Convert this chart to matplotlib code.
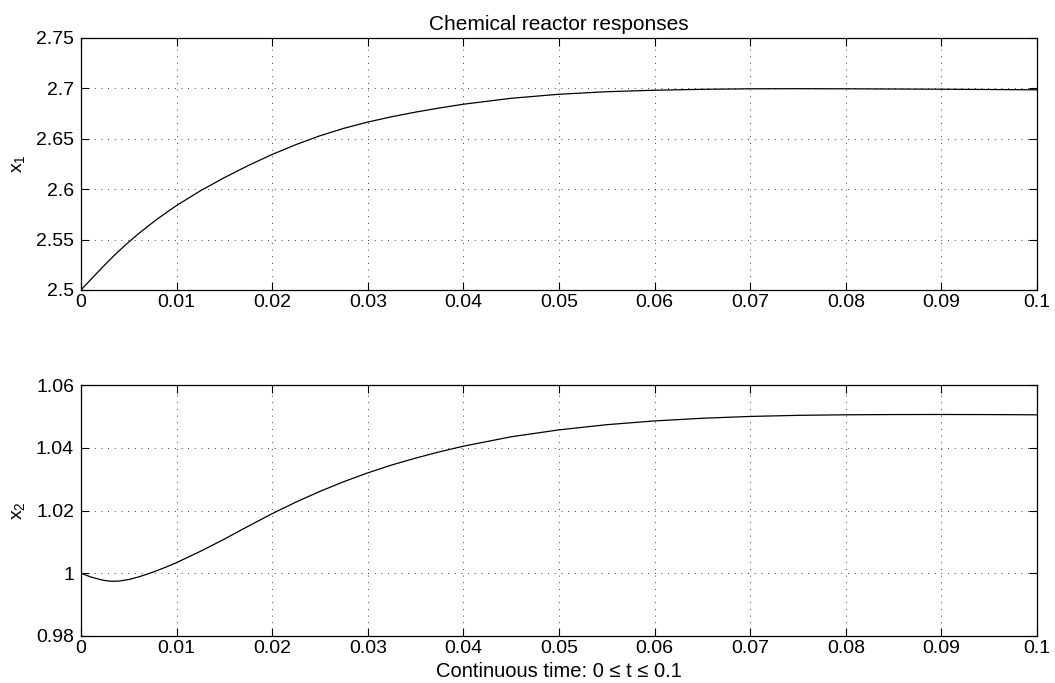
import matplotlib
matplotlib.use("Agg")
import matplotlib.pyplot as plt
from matplotlib.ticker import FuncFormatter

plt.rcParams['font.family'] = ['Liberation Sans', 'DejaVu Sans']

# time samples
t = [0.0, 0.001, 0.002, 0.0025, 0.003, 0.0035, 0.004, 0.005, 0.006, 0.007, 0.0075, 0.008,
     0.009, 0.010, 0.0125, 0.015, 0.0175, 0.020, 0.0225, 0.025, 0.0275, 0.030,
     0.0325, 0.035, 0.0375, 0.040, 0.045, 0.050, 0.055, 0.060, 0.065, 0.070, 0.075, 0.080,
     0.085, 0.090, 0.095, 0.100]

x1 = [2.5000, 2.5102, 2.5201, 2.5250, 2.5298, 2.5345, 2.5390, 2.5476, 2.5557, 2.5633, 2.5669, 2.5705,
      2.5773, 2.5838, 2.5985, 2.6115, 2.6235, 2.6345, 2.6443, 2.6530, 2.6604, 2.6666,
      2.6719, 2.6765, 2.6806, 2.6843, 2.6902, 2.6942, 2.6967, 2.6982, 2.6991, 2.6996, 2.6997, 2.6996,
      2.6994, 2.6992, 2.6989, 2.6986]

x2 = [1.00000, 0.99885, 0.99800, 0.99768, 0.99750, 0.99745, 0.99752, 0.99800, 0.99880, 0.99980, 1.00035, 1.00090,
      1.00210, 1.00340, 1.00700, 1.01090, 1.01500, 1.01900, 1.02270, 1.02610, 1.02920, 1.03200,
      1.03450, 1.03670, 1.03870, 1.04050, 1.04350, 1.04570, 1.04735, 1.04855, 1.04940, 1.04998, 1.05033, 1.05050,
      1.05058, 1.05060, 1.05057, 1.05050]

xticks = [0, 0.01, 0.02, 0.03, 0.04, 0.05, 0.06, 0.07, 0.08, 0.09, 0.1]
y1ticks = [2.5, 2.55, 2.6, 2.65, 2.7, 2.75]
y2ticks = [0.98, 1.0, 1.02, 1.04, 1.06]

title = "Chemical reactor responses"
xlabel = "Continuous time: 0 \u2264 t \u2264 0.1"
ylabels = ["$\\mathregular{x_1}$", "$\\mathregular{x_2}$"]

fig = plt.figure(figsize=(10.55, 6.83), dpi=100)
W, H = 1055, 683
L, R = 81, 1037
boxes = [(38, 290), (385, 636)]
fmt = FuncFormatter(lambda v, p: "%g" % round(v, 6))

axes = []
for (top, bot) in boxes:
    ax = fig.add_axes([L / W, 1 - bot / H, (R - L) / W, (bot - top) / H])
    axes.append(ax)

for ax, y, yt, yl in zip(axes, [x1, x2], [y1ticks, y2ticks], ylabels):
    ax.plot(t, y, color='black', lw=0.9)
    ax.set_xlim(0, 0.1)
    ax.set_ylim(yt[0], yt[-1])
    ax.set_xticks(xticks)
    ax.set_yticks(yt)
    ax.xaxis.set_major_formatter(fmt)
    ax.yaxis.set_major_formatter(fmt)
    ax.tick_params(direction='in', top=True, right=True, length=6, width=0.8,
                   labelsize=14, colors='black')
    ax.tick_params(axis='x', pad=3)
    ax.tick_params(axis='y', pad=5)
    ax.grid(True, color='black', lw=0.6, linestyle=(0, (1, 7)))
    for s in ax.spines.values():
        s.set_linewidth(0.9)
    ax.set_ylabel(yl, fontsize=14)
    ax.yaxis.set_label_coords((27 - L) / (R - L), 0.5)

axes[0].set_title(title, fontsize=15, pad=6)
axes[1].set_xlabel(xlabel, fontsize=14.5)
axes[1].xaxis.set_label_coords(0.5, (636 - 662) / (636 - 385))

fig.savefig("out.png", dpi=100, facecolor='white')
